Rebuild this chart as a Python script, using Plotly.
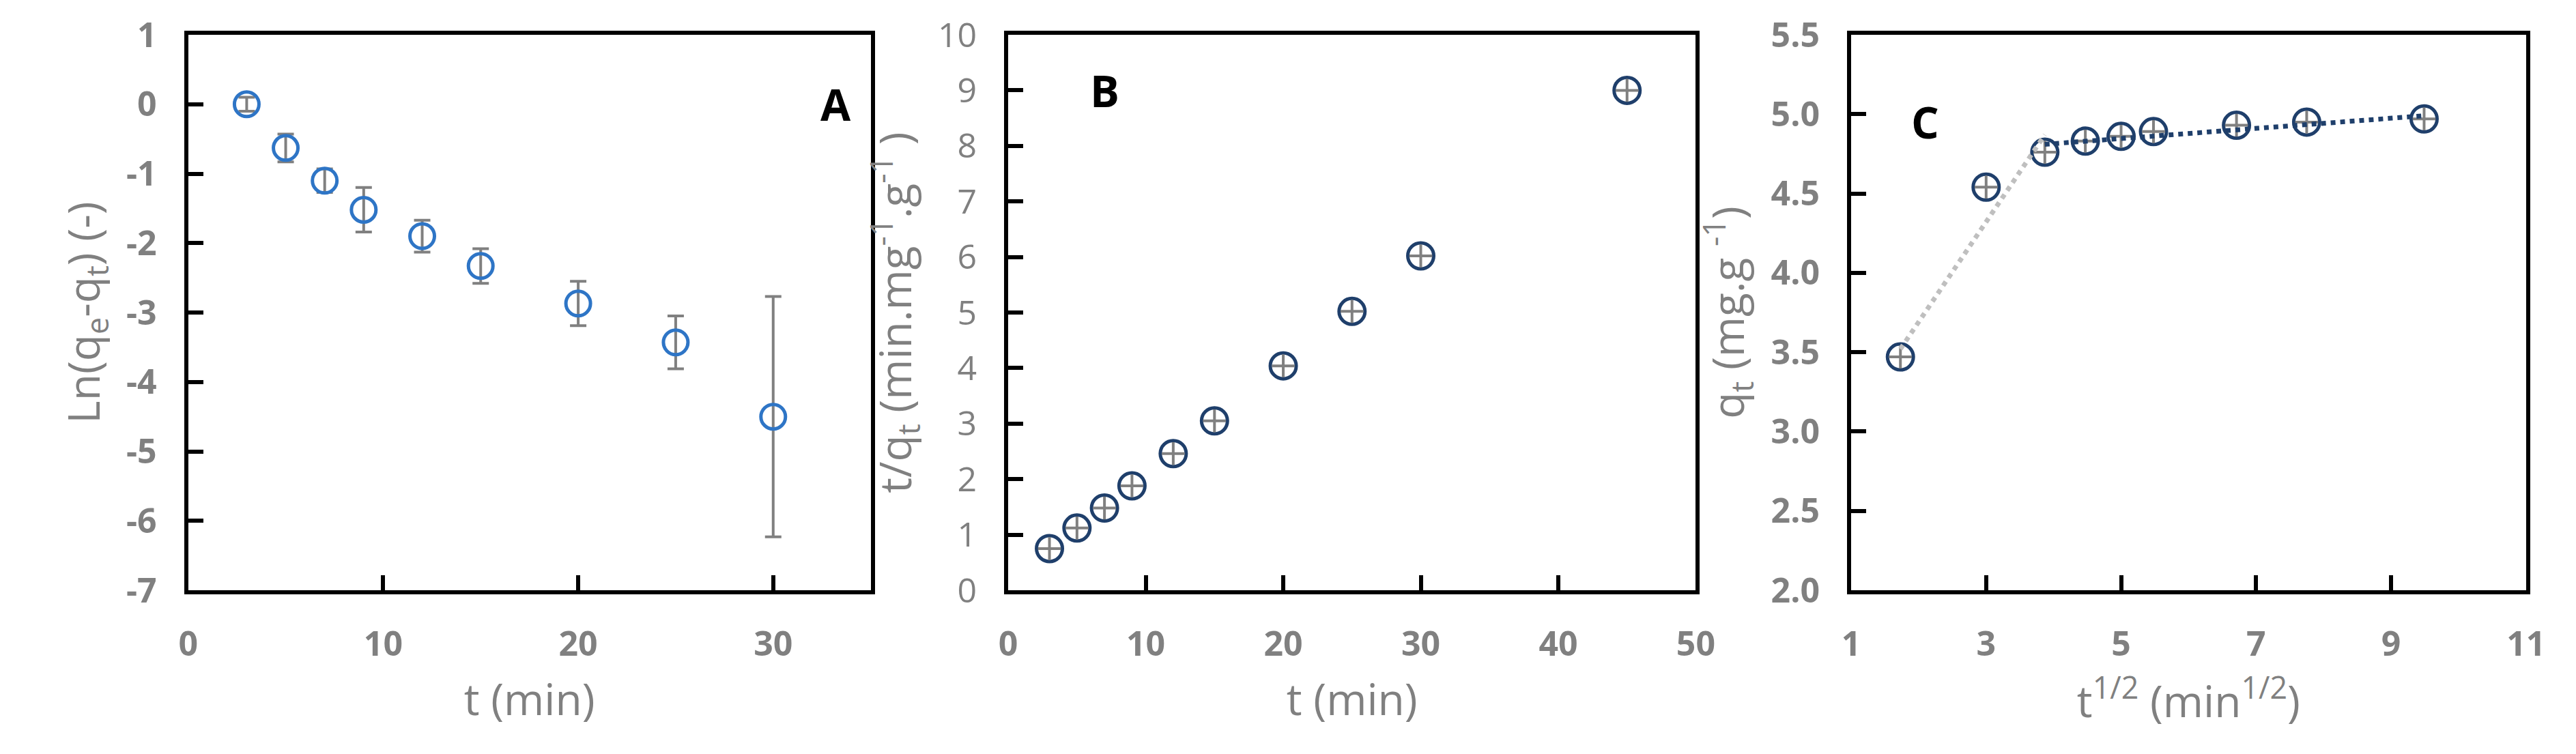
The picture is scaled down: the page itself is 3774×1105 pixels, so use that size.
import plotly.graph_objects as go
from plotly.subplots import make_subplots

# panel A: pseudo-first order
t_a = [3, 5, 7, 9, 12, 15, 20, 25, 30]
ln_a = [0.0, -0.63, -1.10, -1.52, -1.90, -2.33, -2.87, -3.43, -4.50]
err_a = [0.10, 0.20, 0.17, 0.32, 0.23, 0.25, 0.32, 0.38, 1.73]
ticks_a = [1, 0, -1, -2, -3, -4, -5, -6, -7]

# panel B: pseudo-second order
t_b = [3, 5, 7, 9, 12, 15, 20, 25, 30, 45]
tq_b = [0.75, 1.12, 1.48, 1.88, 2.46, 3.05, 4.04, 5.02, 6.02, 9.00]

# panel C: intra-particle diffusion
sqrt_c = [1.73, 3.00, 3.87, 4.47, 5.00, 5.48, 6.71, 7.75, 9.49]
q_c = [3.47, 4.54, 4.76, 4.83, 4.86, 4.89, 4.93, 4.95, 4.97]
fit1_x = [1.73, 3.87]
fit1_y = [3.52, 4.87]
fit2_x = [3.87, 9.49]
fit2_y = [4.81, 4.99]

grey = "#808080"
blue = "#2E75C6"
navy = "#1F3F6B"
font = "Open Sans"

fig = make_subplots(rows=1, cols=3)

fig.add_trace(go.Scatter(x=t_a, y=ln_a, mode="markers",
                         error_y=dict(type="data", array=err_a, color=grey, thickness=4, width=12),
                         marker=dict(symbol="circle-open", size=36, color=blue, line=dict(width=5))),
              row=1, col=1)

for xs, ys, c in [(t_b, tq_b, 2), (sqrt_c, q_c, 3)]:
    fig.add_trace(go.Scatter(x=xs, y=ys, mode="markers",
                             marker=dict(symbol="circle-open", size=38, color=navy, line=dict(width=5))),
                  row=1, col=c)
    fig.add_trace(go.Scatter(x=xs, y=ys, mode="markers",
                             marker=dict(symbol="cross-thin-open", size=24, color=grey, line=dict(width=4, color=grey))),
                  row=1, col=c)

fig.add_trace(go.Scatter(x=fit1_x, y=fit1_y, mode="lines",
                         line=dict(color="#BFBFBF", width=7, dash="dot")), row=1, col=3)
fig.add_trace(go.Scatter(x=fit2_x, y=fit2_y, mode="lines",
                         line=dict(color=navy, width=7, dash="dot")), row=1, col=3)

domains = [[0.068, 0.336], [0.390, 0.660], [0.721, 0.986]]
xr = [[0, 35], [0, 50], [1, 11]]
xd = [10, 10, 2]
yr = [[-7, 1], [0, 10], [2.0, 5.5]]
yd = [1, 1, 0.5]
xt = ["t (min)", "t (min)", "t<sup>1/2</sup> (min<sup>1/2</sup>)"]
yt = ["Ln(q<sub>e</sub>-q<sub>t</sub>) (-)",
      "t/q<sub>t</sub> (min.mg<sup>-1</sup>.g<sup>-1</sup> )",
      "q<sub>t</sub> (mg.g <sup>-1</sup>)"]
ybold = [True, False, True]

for i in range(3):
    common = dict(showline=True, linecolor="black", linewidth=6, mirror=True,
                  ticks="inside", ticklen=22, tickwidth=6, tickcolor="black",
                  showgrid=False, zeroline=False, ticklabelstandoff=30)
    fig.update_xaxes(range=xr[i], dtick=xd[i], tick0=0 if i < 2 else 1, domain=domains[i],
                     tickfont=dict(family=font, size=50, color=grey, weight="bold"),
                     title=dict(text=xt[i], font=dict(family=font, size=64, color=grey), standoff=30),
                     **common, row=1, col=i + 1)
    fig.update_yaxes(range=yr[i], dtick=yd[i], tickformat=".1f" if i == 2 else None,
                     tickfont=dict(family=font, size=50, color=grey,
                                   weight="bold" if ybold[i] else "normal"),
                     title=dict(text=yt[i], font=dict(family=font, size=64, color=grey), standoff=20),
                     **common, row=1, col=i + 1)

# hyphen minus like the reference
fig.update_yaxes(tickvals=ticks_a, ticktext=[str(v) for v in ticks_a], row=1, col=1)

labels = [("A", 33.2, 0.0, "x", "y"), ("B", 7, 9.0, "x2", "y2"), ("C", 2.1, 4.95, "x3", "y3")]
for txt, ax, ay, xref, yref in labels:
    fig.add_annotation(x=ax, y=ay, xref=xref, yref=yref, text="<b>%s</b>" % txt, showarrow=False,
                       font=dict(family=font, size=64, color="black"))

fig.update_layout(width=3774, height=1105, showlegend=False,
                  plot_bgcolor="white", paper_bgcolor="white",
                  margin=dict(l=0, r=0, t=43, b=248))

fig.write_html("out.html")
